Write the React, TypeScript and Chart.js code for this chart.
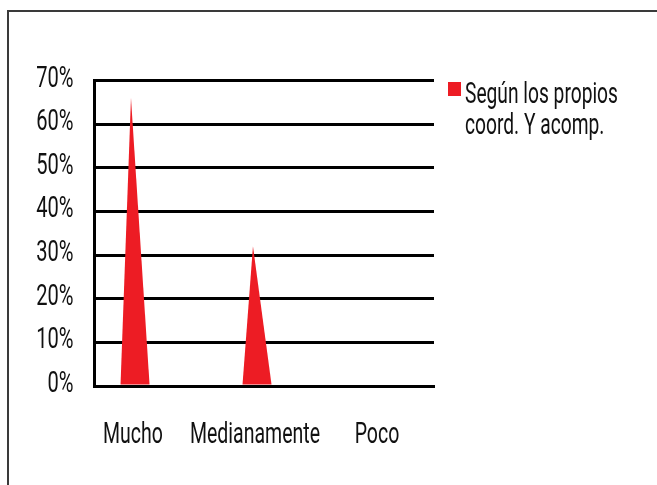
import React, { useEffect, useRef } from 'react';
import { Chart, registerables } from 'chart.js';

Chart.register(...registerables);

const categories: string[] = ['Mucho', 'Medianamente', 'Poco'];
const values: number[] = [0.66, 0.32, 0];
const legendLines: string[] = ['Según los propios', 'coord. Y acomp.'];
const seriesLabel = legendLines.join(' ');
const yMax = 0.7;
const yStep = 0.1;

const FONT = 'Roboto, "Open Sans", sans-serif';
const RED = '#ED1C24';
const TEXT = '#111111';

function condensedText(
  ctx: CanvasRenderingContext2D,
  text: string,
  x: number,
  y: number,
  align: CanvasTextAlign,
  baseline: CanvasTextBaseline,
  size: number,
  sx: number
) {
  ctx.save();
  ctx.font = `${size}px ${FONT}`;
  ctx.fillStyle = TEXT;
  ctx.textAlign = align;
  ctx.textBaseline = baseline;
  ctx.translate(x, y);
  ctx.scale(sx, 1);
  ctx.fillText(text, 0, 0);
  ctx.restore();
}

const framePlugin = {
  id: 'frame',
  beforeDraw(chart: any) {
    const ctx = chart.ctx;
    ctx.save();
    ctx.fillStyle = '#ffffff';
    ctx.fillRect(0, 0, chart.width, chart.height);
    ctx.strokeStyle = '#3a3a3a';
    ctx.lineWidth = 2;
    ctx.strokeRect(8, 11, chart.width + 20, chart.height + 20);
    ctx.restore();
  },
};

const conePlugin = {
  id: 'cones',
  afterDatasetsDraw(chart: any) {
    const ctx = chart.ctx;
    chart.data.datasets.forEach((ds: any, di: number) => {
      const meta = chart.getDatasetMeta(di);
      meta.data.forEach((el: any, i: number) => {
        const v = ds.data[i].y;
        if (!v) return;
        const w = el.width;
        ctx.save();
        ctx.fillStyle = ds.coneColor;
        ctx.beginPath();
        ctx.moveTo(el.x, el.y);
        ctx.lineTo(el.x + w * 0.64, el.base);
        ctx.lineTo(el.x - w * 0.36, el.base);
        ctx.closePath();
        ctx.fill();
        ctx.restore();
      });
    });
  },
};

const labelsPlugin = {
  id: 'condensedLabels',
  afterDraw(chart: any) {
    const ctx = chart.ctx;
    const ys = chart.scales.y;
    ys.ticks.forEach((t: any) => {
      const py = ys.getPixelForValue(t.value);
      condensedText(ctx, `${Math.round(t.value * 100)}%`, 73.5, py - 1.5, 'right', 'middle', 30, 0.67);
    });
    const xs = chart.scales.x;
    xs.ticks.forEach((t: any) => {
      const px = xs.getPixelForValue(t.value);
      const label = categories[Math.round(t.value)] ?? '';
      condensedText(ctx, label, px + 2, 443, 'center', 'alphabetic', 30, 0.65);
    });
    const ds = chart.data.datasets[0];
    ctx.save();
    ctx.fillStyle = ds.coneColor;
    ctx.fillRect(448, 82, 13, 14);
    ctx.restore();
    ds.legendLines.forEach((line: string, i: number) => {
      condensedText(ctx, line, 465, 103 + i * 31, 'left', 'alphabetic', 30, 0.64);
    });
  },
};

export default function App() {
  const ref = useRef<HTMLCanvasElement | null>(null);

  useEffect(() => {
    if (!ref.current) return;
    const chart = new Chart(ref.current, {
      type: 'bar',
      data: {
        datasets: [
          {
            label: seriesLabel,
            data: values.map((v, i) => ({ x: i, y: v })),
            backgroundColor: 'rgba(0,0,0,0)',
            borderWidth: 0,
            barThickness: 29,
            coneColor: RED,
            legendLines,
          } as any,
        ],
      },
      options: {
        responsive: false,
        animation: false,
        events: [],
        layout: { padding: { left: 0, top: 80.5, right: 657 - 434, bottom: 0 } },
        plugins: {
          legend: { display: false },
          tooltip: { enabled: false },
          title: { display: false },
        },
        scales: {
          x: {
            type: 'linear',
            min: -0.299,
            max: 2.484,
            offset: false,
            afterFit: (s: any) => {
              s.height = 99;
            },
            afterBuildTicks: (s: any) => {
              s.ticks = categories.map((_, i) => ({ value: i }));
            },
            grid: { display: false, drawTicks: false },
            border: { display: true, color: '#000000', width: 3 },
            ticks: { display: false },
          },
          y: {
            min: 0,
            max: yMax,
            afterFit: (s: any) => {
              s.width = 94.5;
            },
            grid: { color: '#000000', lineWidth: 3, drawTicks: false },
            border: { display: true, color: '#000000', width: 3 },
            ticks: { display: false, stepSize: yStep },
          },
        },
      } as any,
      plugins: [framePlugin, conePlugin, labelsPlugin],
    });
    return () => chart.destroy();
  }, []);

  return (
    <div style={{ position: 'fixed', left: 0, top: 0, width: 657, height: 485 }}>
      <canvas ref={ref} width={657} height={485} style={{ display: 'block' }} />
    </div>
  );
}
